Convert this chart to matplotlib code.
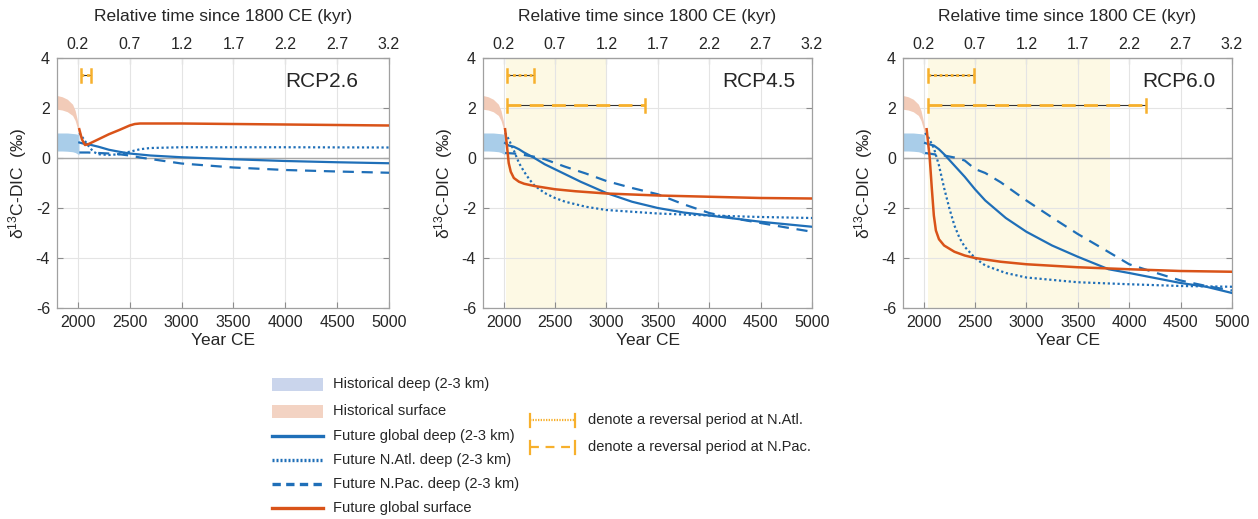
import matplotlib
matplotlib.use("Agg")
import matplotlib.pyplot as plt
from matplotlib.patches import Rectangle
from matplotlib.lines import Line2D

plt.rcParams['font.family'] = ['Liberation Sans', 'DejaVu Sans']
plt.rcParams['axes.unicode_minus'] = False

# ---------------- data ----------------
scenarios = ["RCP2.6", "RCP4.5", "RCP6.0"]

hist_years = [1800, 1850, 1900, 1950, 1975, 2000, 2012]
hist_surf_upper = [2.5, 2.45, 2.35, 2.15, 1.9, 1.45, 1.2]
hist_surf_lower = [1.95, 1.92, 1.85, 1.7, 1.5, 1.15, 1.0]
hist_deep_upper = [1.0, 1.0, 1.0, 0.98, 0.97, 0.95, 0.93]
hist_deep_lower = [0.28, 0.28, 0.27, 0.25, 0.22, 0.16, 0.12]

# RCP2.6
r26_surf_years = [2015, 2040, 2070, 2100, 2200, 2300, 2400, 2500, 2550, 2600, 3000, 3500, 4000, 4500, 5000]
r26_surf = [1.15, 0.75, 0.52, 0.55, 0.75, 0.95, 1.12, 1.3, 1.36, 1.38, 1.38, 1.36, 1.34, 1.32, 1.3]
r26_glob_years = [2015, 2050, 2100, 2200, 2300, 2400, 2500, 2700, 3000, 3500, 4000, 4500, 5000]
r26_glob = [0.62, 0.58, 0.55, 0.45, 0.33, 0.25, 0.18, 0.1, 0.03, -0.05, -0.12, -0.17, -0.21]
r26_natl_years = [2015, 2050, 2100, 2150, 2200, 2300, 2400, 2500, 2600, 2700, 3000, 4000, 5000]
r26_natl = [1.0, 0.8, 0.5, 0.25, 0.15, 0.12, 0.15, 0.25, 0.35, 0.4, 0.43, 0.43, 0.42]
r26_npac_years = [2015, 2100, 2200, 2300, 2400, 2500, 2600, 2800, 3000, 3500, 4000, 4500, 5000]
r26_npac = [0.22, 0.22, 0.2, 0.18, 0.15, 0.1, 0.02, -0.1, -0.22, -0.38, -0.48, -0.54, -0.59]

# RCP4.5
r45_surf_years = [2015, 2030, 2050, 2070, 2100, 2150, 2200, 2300, 2500, 2700, 3000, 3500, 4000, 4500, 5000]
r45_surf = [1.15, 0.6, -0.2, -0.55, -0.8, -0.95, -1.03, -1.12, -1.25, -1.33, -1.42, -1.5, -1.55, -1.6, -1.62]
r45_glob_years = [2015, 2050, 2100, 2150, 2200, 2300, 2400, 2500, 2600, 2750, 3000, 3250, 3500, 3750, 4000, 4500, 5000]
r45_glob = [0.6, 0.5, 0.45, 0.35, 0.22, 0.0, -0.25, -0.45, -0.65, -0.95, -1.4, -1.75, -2.0, -2.18, -2.3, -2.55, -2.75]
r45_natl_years = [2015, 2050, 2100, 2150, 2200, 2250, 2300, 2400, 2500, 2600, 2800, 3000, 3500, 4000, 4500, 5000]
r45_natl = [1.0, 0.75, 0.3, -0.2, -0.55, -0.85, -1.1, -1.4, -1.6, -1.75, -1.95, -2.08, -2.22, -2.3, -2.36, -2.4]
r45_npac_years = [2015, 2100, 2200, 2300, 2400, 2500, 2600, 2800, 3000, 3250, 3500, 3750, 4000, 4250, 4500, 4750, 5000]
r45_npac = [0.2, 0.18, 0.12, 0.05, -0.05, -0.2, -0.35, -0.62, -0.92, -1.2, -1.45, -1.85, -2.2, -2.42, -2.6, -2.78, -2.95]

# RCP6.0
r60_surf_years = [2030, 2060, 2080, 2100, 2120, 2150, 2200, 2300, 2400, 2500, 2750, 3000, 3500, 4000, 4500, 5000]
r60_surf = [1.15, 0.0, -1.2, -2.3, -2.9, -3.25, -3.5, -3.75, -3.9, -4.0, -4.15, -4.25, -4.37, -4.45, -4.52, -4.55]
r60_glob_years = [2015, 2050, 2100, 2150, 2200, 2300, 2400, 2500, 2600, 2800, 3000, 3250, 3500, 3800, 4000, 4250, 4500, 4750, 5000]
r60_glob = [0.6, 0.55, 0.5, 0.35, 0.15, -0.3, -0.75, -1.25, -1.7, -2.4, -2.95, -3.5, -3.95, -4.45, -4.6, -4.8, -5.0, -5.15, -5.4]
r60_natl_years = [2015, 2050, 2100, 2150, 2200, 2250, 2300, 2350, 2400, 2500, 2600, 2800, 3000, 3500, 4000, 4500, 5000]
r60_natl = [1.0, 0.8, 0.4, -0.3, -1.2, -2.0, -2.7, -3.2, -3.55, -4.0, -4.3, -4.6, -4.78, -4.97, -5.05, -5.12, -5.15]
r60_npac_years = [2015, 2100, 2200, 2300, 2400, 2500, 2600, 2750, 3000, 3250, 3500, 3750, 4000, 4250, 4500, 4750, 5000]
r60_npac = [0.2, 0.15, 0.1, 0.02, -0.1, -0.44, -0.6, -0.97, -1.7, -2.38, -3.04, -3.64, -4.25, -4.58, -4.9, -5.12, -5.3]

# shaded periods (start, end) per scenario; None = no shading
shade_periods = [None, (2020, 3000), (2040, 3810)]
# reversal bars: (start, end) N.Atl and N.Pac
natl_reversal = [(2030, 2125), (2030, 2295), (2045, 2490)]
npac_reversal = [None, (2030, 3380), (2045, 4160)]

series = [
    (r26_surf_years, r26_surf, r26_glob_years, r26_glob, r26_natl_years, r26_natl, r26_npac_years, r26_npac),
    (r45_surf_years, r45_surf, r45_glob_years, r45_glob, r45_natl_years, r45_natl, r45_npac_years, r45_npac),
    (r60_surf_years, r60_surf, r60_glob_years, r60_glob, r60_natl_years, r60_natl, r60_npac_years, r60_npac),
]

x_ticks = [2000, 2500, 3000, 3500, 4000, 4500, 5000]
y_ticks = [-6, -4, -2, 0, 2, 4]

# ---------------- style ----------------
BLUE = '#1f6fb8'
ORANGE = '#d95319'
BAR = '#f7b02c'
DEEP_FILL = '#a9cde9'
SURF_FILL = '#f2cbb8'
SHADE = '#fdf9e4'
TXT = '#262626'

W, H = 1258, 519
fig = plt.figure(figsize=(W / 100, H / 100), dpi=100)

lefts_px = [57, 483, 903]
widths_px = [332, 329, 329]
top_px, bot_px = 58, 308
label_x = [0.907, 0.948, 0.951]

for i, lx in enumerate(lefts_px):
    ax = fig.add_axes([lx / W, 1 - bot_px / H, widths_px[i] / W, (bot_px - top_px) / H])
    sy, s, gy, g, ay, a, py, p = series[i]
    if shade_periods[i] is not None:
        ax.axvspan(shade_periods[i][0], shade_periods[i][1], color=SHADE, zorder=0, lw=0)
    ax.axhline(0, color='#a8a8a8', lw=1.0, zorder=1)
    ax.fill_between(hist_years, hist_surf_lower, hist_surf_upper, color=SURF_FILL, lw=0, zorder=2)
    ax.fill_between(hist_years, hist_deep_lower, hist_deep_upper, color=DEEP_FILL, lw=0, zorder=2)
    ax.plot(gy, g, color=BLUE, lw=1.6, zorder=3)
    ax.plot(ay, a, color=BLUE, lw=1.6, ls=(0, (1, 1.2)), zorder=3)
    ax.plot(py, p, color=BLUE, lw=1.6, ls=(0, (5, 3.5)), zorder=3)
    ax.plot(sy, s, color=ORANGE, lw=1.8, zorder=4)

    # reversal bars
    for per, yv, style in [(natl_reversal[i], 3.3, (0, (1, 1))), (npac_reversal[i], 2.1, (0, (5, 3)))]:
        if per is None:
            continue
        ax.plot([per[0], per[1]], [yv, yv], color='#333333', lw=0.8, zorder=5)
        ax.plot([per[0], per[1]], [yv, yv], color=BAR, lw=2.0, ls=style, zorder=6)
        for xe in per:
            ax.plot([xe, xe], [yv - 0.27, yv + 0.27], color=BAR, lw=1.8, zorder=6)

    ax.text(label_x[i], 0.905, scenarios[i], transform=ax.transAxes, ha='right', va='center',
            fontsize=15, color=TXT)

    ax.set_xlim(1800, 5000)
    ax.set_ylim(-6, 4)
    ax.set_xticks(x_ticks)
    ax.set_yticks(y_ticks)
    ax.grid(True, color='#e4e4e4', lw=0.8)
    ax.set_axisbelow(True)
    ax.tick_params(direction='in', length=4, width=0.8, colors='#8c8c8c', labelcolor=TXT,
                   labelsize=11.5, right=True, pad=5)
    for sp in ax.spines.values():
        sp.set_color('#a0a0a0')
        sp.set_linewidth(0.9)
    ax.set_xlabel('Year CE', fontsize=12.5, color=TXT, labelpad=2)
    ax.set_ylabel(r'$\mathregular{\delta^{13}}$C-DIC  (‰)', fontsize=12.5, color=TXT, labelpad=5)

    sec = ax.secondary_xaxis('top', functions=(lambda x: (x - 1800) / 1000.0,
                                                lambda r: r * 1000.0 + 1800))
    sec.set_xticks([(t - 1800) / 1000.0 for t in x_ticks])
    sec.set_xticklabels(['%.1f' % ((t - 1800) / 1000.0) for t in x_ticks])
    sec.tick_params(direction='in', length=4, width=0.8, colors='#8c8c8c', labelcolor=TXT,
                    labelsize=11.5, pad=4)
    sec.spines['top'].set_color('#a0a0a0')
    sec.set_xlabel('Relative time since 1800 CE (kyr)', fontsize=12.5, color=TXT, labelpad=12)

# ---------------- legend ----------------
lg = fig.add_axes([0, 0, 1, 1])
lg.set_xlim(0, W)
lg.set_ylim(H, 0)
lg.axis('off')

rows_y = [384, 411, 436, 460, 484, 508]
labels_left = ['Historical deep (2-3 km)', 'Historical surface', 'Future global deep (2-3 km)',
               'Future N.Atl. deep (2-3 km)', 'Future N.Pac. deep (2-3 km)', 'Future global surface']
lg.add_patch(Rectangle((272, rows_y[0] - 6.5), 51, 13, color='#cad5ec', lw=0))
lg.add_patch(Rectangle((272, rows_y[1] - 6.5), 51, 13, color='#f3d3c3', lw=0))
lg.add_line(Line2D([272, 323], [rows_y[2]] * 2, color=BLUE, lw=2.4))
lg.add_line(Line2D([272, 323], [rows_y[3]] * 2, color=BLUE, lw=2.4, ls=(0, (0.6, 0.6))))
lg.add_line(Line2D([272, 323], [rows_y[4]] * 2, color=BLUE, lw=2.4, ls=(0, (2.5, 1.6))))
lg.add_line(Line2D([272, 323], [rows_y[5]] * 2, color=ORANGE, lw=2.4))
for yv, lab in zip(rows_y, labels_left):
    lg.text(333, yv, lab, fontsize=10.5, va='center', ha='left', color=TXT)

rows_r = [420, 447]
labels_right = ['denote a reversal period at N.Atl.', 'denote a reversal period at N.Pac.']
styles_r = [(0, (0.6, 0.6)), (0, (4, 3))]
for yv, lab, st in zip(rows_r, labels_right, styles_r):
    lg.add_line(Line2D([530, 575], [yv, yv], color=BAR, lw=1.6, ls=st))
    for xe in (530, 575):
        lg.add_line(Line2D([xe, xe], [yv - 6.5, yv + 6.5], color=BAR, lw=1.6))
    lg.text(588, yv, lab, fontsize=10.5, va='center', ha='left', color=TXT)

fig.savefig('out.png', dpi=100)
